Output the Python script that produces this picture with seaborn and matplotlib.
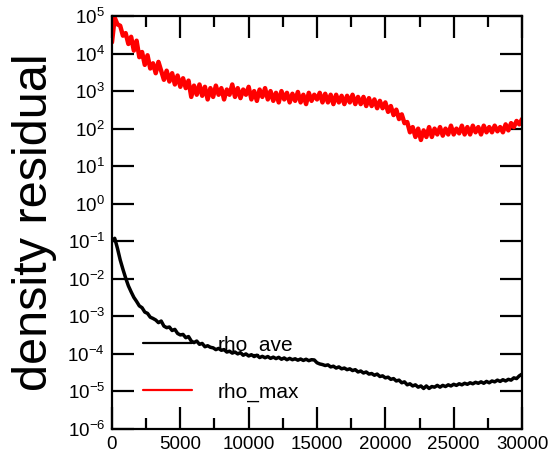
import numpy as np
import pandas as pd
import matplotlib
matplotlib.use("Agg")
import matplotlib.pyplot as plt
import seaborn as sns
from matplotlib.ticker import FixedLocator, MultipleLocator, LogFormatterSciNotation, NullLocator

# iteration grid (every 200 steps)
iterations = list(range(0, 30001, 200))

# rho_max
rho_max = [
    2e4, 9e4, 6e4, 5.5e4, 3e4,
    3.5e4, 1.8e4, 2.8e4, 1.2e4, 2.2e4,
    8e3, 1.1e4, 5e3, 9e3, 4e3,
    5.5e3, 3e3, 6e3, 3.5e3, 2e3,
    3.5e3, 1.8e3, 3e3, 1.5e3, 2.6e3,
    1.3e3, 2.2e3, 1.2e3, 1.9e3, 7e2,
    1.4e3, 8e2, 1.5e3, 7.5e2, 1.3e3,
    6e2, 1.2e3, 7e2, 1.4e3, 8e2,
    1.2e3, 6e2, 1.1e3, 8e2, 1.5e3,
    7e2, 1.2e3, 6.5e2, 1.1e3, 8e2,
    1.3e3, 6e2, 1.0e3, 5.5e2, 1.1e3,
    7e2, 1.2e3, 6e2, 1.0e3, 5.5e2,
    9e2, 5e2, 1.0e3, 6e2, 9e2,
    5e2, 8.5e2, 5.5e2, 9.5e2, 5e2,
    8e2, 4.5e2, 9e2, 5.5e2, 8e2,
    6e2, 9e2, 5e2, 8.5e2, 5e2,
    8e2, 4.5e2, 8e2, 5e2, 7.5e2,
    4.5e2, 7.5e2, 5e2, 8e2, 4.5e2,
    7e2, 4.5e2, 7e2, 4e2, 6.5e2,
    4e2, 6e2, 3.5e2, 5.5e2, 3.5e2,
    5e2, 2.8e2, 4e2, 2.3e2, 3.2e2,
    1.8e2, 2.4e2, 1.4e2, 1.5e2, 8e1,
    1.1e2, 6e1, 1.0e2, 5e1, 9e1,
    6e1, 1.1e2, 6e1, 1.0e2, 7e1,
    1.1e2, 6.5e1, 1.0e2, 7e1, 1.2e2,
    7e1, 1.0e2, 7.5e1, 1.2e2, 7e1,
    1.1e2, 7e1, 1.2e2, 8e1, 1.1e2,
    7e1, 1.2e2, 8e1, 1.1e2, 8e1,
    1.2e2, 8.5e1, 1.1e2, 8e1, 1.3e2,
    9e1, 1.4e2, 1.1e2, 1.6e2, 1.3e2,
    1.8e2,
]

# rho_ave
rho_ave = [
    0.1, 0.12, 0.065, 0.032, 0.018,
    0.0105, 0.0065, 0.0045, 0.0032, 0.0025,
    0.0019, 0.0017, 0.0013, 0.0012, 0.00095,
    0.00088, 0.0008, 0.00068, 0.00075, 0.00055,
    0.0005, 0.00052, 0.00042, 0.00045, 0.00035,
    0.00032, 0.00033, 0.00027, 0.00029, 0.00022,
    0.0002, 0.00022, 0.00018, 0.00019, 0.000155,
    0.000165, 0.00015, 0.000145, 0.00013, 0.00014,
    0.000125, 0.00013, 0.000112, 0.000118, 0.000105,
    0.000112, 0.0001, 0.000108, 0.000092, 0.0001,
    0.000088, 0.000095, 0.000085, 0.000092, 0.00008,
    0.000086, 0.000079, 0.000085, 0.000076, 0.000082,
    0.000075, 0.000081, 0.000072, 0.000078, 0.00007,
    0.000076, 0.00007, 0.000074, 0.000068, 0.000073,
    0.000067, 0.000072, 0.000066, 0.00007, 0.000069,
    0.000058, 0.000054, 0.000052, 0.000049, 0.000051,
    0.000045, 0.000047, 0.000042, 0.000045, 0.00004,
    0.000042, 0.000038, 0.00004, 0.000036, 0.000038,
    0.000033, 0.000035, 0.000031, 0.000033, 0.000029,
    0.00003, 0.000027, 0.000029, 0.000025, 0.000026,
    0.000023, 0.000024, 0.000021, 0.000022, 0.000019,
    0.00002, 0.000017, 0.000018, 0.000015, 0.000016,
    0.000014, 0.000015, 0.000013, 0.000014, 0.000012,
    0.000014, 0.000012, 0.0000135, 0.000013, 0.0000145,
    0.000013, 0.0000145, 0.0000135, 0.000015, 0.000014,
    0.0000155, 0.0000145, 0.000016, 0.000015, 0.0000165,
    0.0000155, 0.000017, 0.000016, 0.0000175, 0.0000165,
    0.000018, 0.0000165, 0.0000185, 0.000017, 0.000019,
    0.000018, 0.00002, 0.0000185, 0.0000205, 0.000019,
    0.000021, 0.00002, 0.000023, 0.000022, 0.000026,
    0.000029,
]

x_ticks = [0, 5000, 10000, 15000, 20000, 25000, 30000]
y_ticks = [1e-6, 1e-5, 1e-4, 1e-3, 1e-2, 1e-1, 1e0, 1e1, 1e2, 1e3, 1e4, 1e5]

sns.set_style("ticks")
plt.rcParams['font.family'] = ['Liberation Sans', 'DejaVu Sans']
plt.rcParams['mathtext.fontset'] = 'custom'
plt.rcParams['mathtext.rm'] = 'Liberation Sans'
plt.rcParams['mathtext.it'] = 'Liberation Sans'
plt.rcParams['mathtext.default'] = 'regular'
plt.rcParams['text.color'] = 'black'
plt.rcParams['axes.labelcolor'] = 'black'
plt.rcParams['xtick.color'] = 'black'
plt.rcParams['ytick.color'] = 'black'

df = pd.DataFrame({
    'iteration': iterations * 2,
    'residual': rho_ave + rho_max,
    'series': ['rho_ave'] * len(iterations) + ['rho_max'] * len(iterations),
})

fig = plt.figure(figsize=(5.53, 4.59), dpi=100)
ax = fig.add_axes([0.2025, 0.0654, 0.7415, 0.8997])

sns.lineplot(data=df, x='iteration', y='residual', hue='series',
             palette={'rho_ave': 'black', 'rho_max': 'red'},
             linewidth=2.5, ax=ax, legend=True)
# red band is drawn a bit heavier in the reference
ax.get_lines()[1].set_linewidth(3.2)

ax.set_yscale('log')
ax.set_xlim(0, 30000)
ax.set_ylim(1e-6, 1e5)

ax.xaxis.set_major_locator(FixedLocator(x_ticks))
ax.xaxis.set_minor_locator(MultipleLocator(2500))
ax.yaxis.set_major_locator(FixedLocator(y_ticks))
ax.yaxis.set_major_formatter(LogFormatterSciNotation())
ax.yaxis.set_minor_locator(NullLocator())

ax.tick_params(axis='both', which='major', direction='in', length=16, width=1.6,
               top=True, right=True, labelsize=13.5, pad=5, colors='black')
ax.tick_params(axis='x', which='minor', direction='in', length=8, width=1.6, top=True)
for s in ax.spines.values():
    s.set_linewidth(1.6)
    s.set_color('black')

ax.set_xlabel('')
ax.set_ylabel('density residual', fontsize=35, color='black')
ax.yaxis.set_label_coords(-0.135, 0.5)

leg = ax.legend(loc='upper left', bbox_to_anchor=(0.056, 0.247), frameon=False,
                borderaxespad=0, fontsize=15, handlelength=2.35,
                labelspacing=1.35, handletextpad=1.2)
for line in leg.get_lines():
    line.set_linewidth(1.6)
for t in leg.get_texts():
    t.set_color('black')

fig.savefig('out.png', dpi=100)
